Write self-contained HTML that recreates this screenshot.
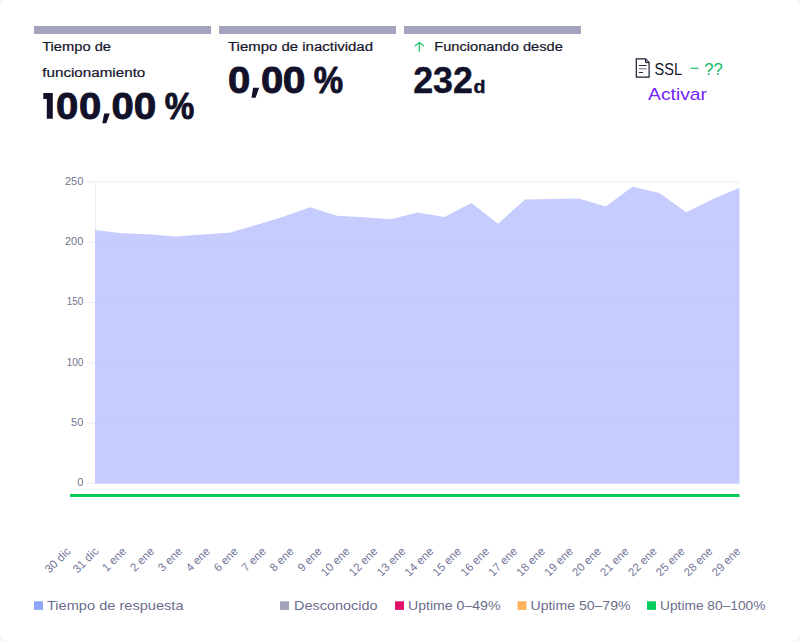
<!DOCTYPE html>
<html><head><meta charset="utf-8">
<style>
html,body{margin:0;padding:0;width:800px;height:641px;overflow:hidden;background:#f3f4fe;}
#card{position:absolute;left:0;top:0;width:800px;height:641px;background:#fff;border-radius:7px;}
svg{position:absolute;left:0;top:0;}
text{font-family:"Liberation Sans",sans-serif;}
</style></head>
<body>
<div id="card"></div>
<svg width="800" height="641" viewBox="0 0 800 641">
  <!-- header bars -->
  <rect x="34" y="26" width="177" height="8" fill="#a3a3bc"/>
  <rect x="219" y="26" width="177" height="8" fill="#a3a3bc"/>
  <rect x="404" y="26" width="177" height="8" fill="#a3a3bc"/>

  <!-- column texts -->
  <g fill="#15152b" font-size="12.5" stroke="#15152b" stroke-width="0.2">
    <text x="42.2" y="51" textLength="68.8" lengthAdjust="spacingAndGlyphs">Tiempo de</text>
    <text x="42.3" y="76.7" textLength="103" lengthAdjust="spacingAndGlyphs">funcionamiento</text>
    <text x="228" y="51" textLength="145" lengthAdjust="spacingAndGlyphs">Tiempo de inactividad</text>
    <text x="434.3" y="51" textLength="128.5" lengthAdjust="spacingAndGlyphs">Funcionando desde</text>
  </g>
  <g fill="#12112a" font-weight="bold" font-size="37.3" stroke="#12112a" stroke-width="0.9" stroke-linejoin="round">
    <path d="M43.3 93.1 H52.8 V118.7 H46.8 V98.9 H43.3 Z" stroke="none"/>
    <text transform="translate(55.88 118.6) scale(1.074 1)">0</text>
    <text transform="translate(78.88 118.6) scale(1.074 1)">0</text>
    <path d="M104.2 113.5 L109.8 113.5 L106.3 123.3 L102.3 123.3 Z" stroke="none"/>
    <text transform="translate(111.38 118.6) scale(1.074 1)">0</text>
    <text transform="translate(133.87 118.6) scale(1.085 1)">0</text>
    <text transform="translate(164.67 118.6) scale(0.892 1)">%</text>
    <text transform="translate(228.08 92.8) scale(1.074 1)">0</text>
    <path d="M253.1 87.8 L259.1 87.8 L255.6 97.7 L251.5 97.7 Z" stroke="none"/>
    <text transform="translate(260.88 92.8) scale(1.074 1)">0</text>
    <text transform="translate(282.86 92.8) scale(1.096 1)">0</text>
    <text transform="translate(313.67 92.8) scale(0.886 1)">%</text>
  </g>
  <g fill="#12112a" font-weight="bold" stroke="#12112a" stroke-width="0.4">
    <text x="413.2" y="92.6" font-size="37" textLength="59.8" lengthAdjust="spacingAndGlyphs">232</text>
    <text x="473.6" y="92.6" font-size="18.7" textLength="12" lengthAdjust="spacingAndGlyphs">d</text>
  </g>
  <!-- arrow -->
  <g stroke="#16c464" stroke-width="1.2" fill="none" stroke-linecap="round" stroke-linejoin="round">
    <path d="M419.3 51.2 V42.8 M415.1 45.7 L419.3 42.5 L423.5 45.7"/>
  </g>

  <!-- SSL -->
  <g>
    <path d="M636.3 58.8 H645.5 L649.1 62.6 V77.1 H636.3 Z" fill="#fff" stroke="#1a1a2e" stroke-width="1.2"/>
    <path d="M645.5 58.8 V62.6 H649.1" fill="#8d8fa8" stroke="#1a1a2e" stroke-width="1"/>
    <path d="M638.9 65.5 H646.6 M638.9 72.5 H643" stroke="#2a2a40" stroke-width="1"/>
    <path d="M638.9 68.8 H646.6" stroke="#77778f" stroke-width="1.1"/>
    <text x="654.5" y="74.6" font-size="17.2" fill="#15152b" textLength="27.5" lengthAdjust="spacingAndGlyphs">SSL</text>
    <rect x="690.8" y="67.7" width="7.7" height="1.2" fill="#20bf6a"/>
    <text x="704.3" y="74.6" font-size="16.5" fill="#12b862" textLength="18.5" lengthAdjust="spacingAndGlyphs">??</text>
    <text x="648" y="99.6" font-size="16.6" fill="#7424fa" textLength="59" lengthAdjust="spacingAndGlyphs">Activar</text>
  </g>

  <!-- chart grid -->
  <g stroke="#ececf4" stroke-width="1">
    <line x1="87" y1="182" x2="739" y2="182"/>
    <line x1="87" y1="242.25" x2="95" y2="242.25"/>
    <line x1="87" y1="302.5" x2="95" y2="302.5"/>
    <line x1="87" y1="362.75" x2="95" y2="362.75"/>
    <line x1="87" y1="423" x2="95" y2="423"/>
    <line x1="87" y1="483.25" x2="95" y2="483.25"/>
    <line x1="95.5" y1="182" x2="95.5" y2="484"/>
  </g>
  <!-- area -->
  <path fill="#c6cdfe" d="M95 230 L121.9 233.3 L148.75 234.2 L175.6 236.4 L202.5 234.6 L229.4 232.8 L256.25 225 L283.1 216.75 L310 207.3 L336.9 215.7 L363.75 217.2 L390.6 219.3 L417.5 212.6 L444.4 217 L471.25 203 L498.1 223.75 L525 199.6 L551.9 199 L578.75 198.5 L605.6 206.5 L632.5 186.7 L659.4 193 L686.25 212.2 L713.1 199 L739.5 187.75 L739.5 483.7 L95 483.7 Z"/>
  <g stroke="#bdcafd" stroke-width="1">
    <line x1="95" y1="242.5" x2="739.5" y2="242.5"/>
    <line x1="95" y1="302.6" x2="739.5" y2="302.6"/>
    <line x1="95" y1="363" x2="739.5" y2="363"/>
    <line x1="95" y1="423.4" x2="739.5" y2="423.4"/>
  </g>
  <!-- y labels -->
  <g fill="#71738f" font-size="11" text-anchor="end">
    <text x="83.3" y="184.8">250</text>
    <text x="83.3" y="245">200</text>
    <text x="83.3" y="305.3" textLength="16.6" lengthAdjust="spacingAndGlyphs">150</text>
    <text x="83.3" y="365.5" textLength="16.6" lengthAdjust="spacingAndGlyphs">100</text>
    <text x="83.3" y="425.8">50</text>
    <text x="83.3" y="486">0</text>
  </g>
  <!-- green uptime line -->
  <rect x="70" y="494" width="669.5" height="3" fill="#06cc57"/>

  <!-- x labels -->
  <g id="xl" fill="#73769a" font-size="11.5" text-anchor="end">
    <text transform="translate(71.30 552) rotate(-45)">30 dic</text>
    <text transform="translate(99.22 552) rotate(-45)">31 dic</text>
    <text transform="translate(127.13 552) rotate(-45)">1 ene</text>
    <text transform="translate(155.05 552) rotate(-45)">2 ene</text>
    <text transform="translate(182.97 552) rotate(-45)">3 ene</text>
    <text transform="translate(210.88 552) rotate(-45)">4 ene</text>
    <text transform="translate(238.80 552) rotate(-45)">6 ene</text>
    <text transform="translate(266.72 552) rotate(-45)">7 ene</text>
    <text transform="translate(294.63 552) rotate(-45)">8 ene</text>
    <text transform="translate(322.55 552) rotate(-45)">9 ene</text>
    <text transform="translate(350.47 552) rotate(-45)">10 ene</text>
    <text transform="translate(378.38 552) rotate(-45)">12 ene</text>
    <text transform="translate(406.30 552) rotate(-45)">13 ene</text>
    <text transform="translate(434.22 552) rotate(-45)">14 ene</text>
    <text transform="translate(462.13 552) rotate(-45)">15 ene</text>
    <text transform="translate(490.05 552) rotate(-45)">16 ene</text>
    <text transform="translate(517.97 552) rotate(-45)">17 ene</text>
    <text transform="translate(545.88 552) rotate(-45)">18 ene</text>
    <text transform="translate(573.80 552) rotate(-45)">19 ene</text>
    <text transform="translate(601.72 552) rotate(-45)">20 ene</text>
    <text transform="translate(629.63 552) rotate(-45)">21 ene</text>
    <text transform="translate(657.55 552) rotate(-45)">22 ene</text>
    <text transform="translate(685.47 552) rotate(-45)">25 ene</text>
    <text transform="translate(713.38 552) rotate(-45)">28 ene</text>
    <text transform="translate(741.30 552) rotate(-45)">29 ene</text>
  </g>

  <!-- legend -->
  <g font-size="13.5" fill="#6b6d8d">
    <rect x="34" y="601.3" width="9" height="8.6" fill="#8ea4f6"/>
    <text x="47" y="609.8" textLength="136.5" lengthAdjust="spacingAndGlyphs">Tiempo de respuesta</text>
    <rect x="280" y="601.3" width="9" height="8.6" fill="#a3a3bc"/>
    <text x="294" y="609.8" textLength="83.5" lengthAdjust="spacingAndGlyphs">Desconocido</text>
    <rect x="395" y="601.3" width="9" height="8.6" fill="#e0106b"/>
    <text x="408" y="609.8" textLength="92.5" lengthAdjust="spacingAndGlyphs">Uptime 0–49%</text>
    <rect x="517.5" y="601.3" width="9" height="8.6" fill="#ffb35c"/>
    <text x="530.5" y="609.8" textLength="100" lengthAdjust="spacingAndGlyphs">Uptime 50–79%</text>
    <rect x="647" y="601.3" width="9" height="8.6" fill="#0bcb5a"/>
    <text x="660" y="609.8" textLength="105.5" lengthAdjust="spacingAndGlyphs">Uptime 80–100%</text>
  </g>
</svg>
</body></html>
